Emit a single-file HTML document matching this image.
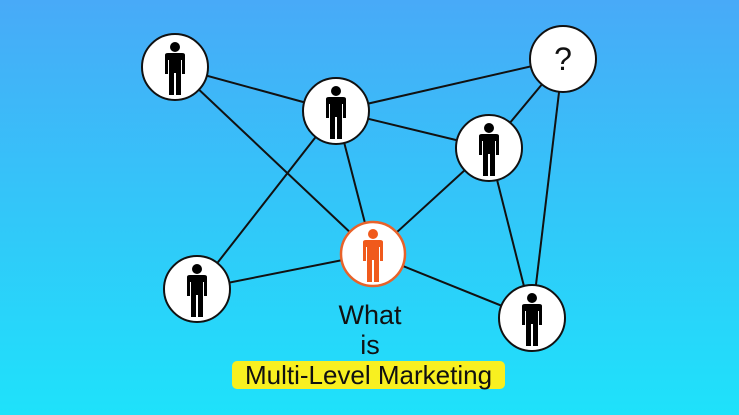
<!DOCTYPE html>
<html><head><style>
html,body{margin:0;padding:0;}
body{width:739px;height:415px;overflow:hidden;background:linear-gradient(#48aaf8,#1ee2fa);font-family:"Liberation Sans",sans-serif;position:relative;}
svg{position:absolute;left:0;top:0;}
.t{position:absolute;color:#111;font-size:27px;text-align:center;}
</style></head><body>
<svg width="739" height="415" viewBox="0 0 739 415">
<defs>
<g id="p">
<circle cx="0" cy="-23" r="5"/>
<path d="M-10,-15 Q-10,-17 -7,-17 H7 Q10,-17 10,-15 V4 H7 V-10 H6 V25 H1 V3 H-1 V25 H-6 V-10 H-7 V4 H-10 Z"/>
</g>
</defs>
<g stroke="#111" stroke-width="2">
<line x1="175" y1="67" x2="336" y2="111"/>
<line x1="175" y1="67" x2="373" y2="254"/>
<line x1="336" y1="111" x2="563" y2="59"/>
<line x1="336" y1="111" x2="489" y2="148"/>
<line x1="336" y1="111" x2="373" y2="254"/>
<line x1="336" y1="111" x2="197" y2="289"/>
<line x1="563" y1="59" x2="489" y2="148"/>
<line x1="563" y1="59" x2="532" y2="318"/>
<line x1="489" y1="148" x2="373" y2="254"/>
<line x1="489" y1="148" x2="532" y2="318"/>
<line x1="373" y1="254" x2="197" y2="289"/>
<line x1="373" y1="254" x2="532" y2="318"/>
</g>
<g fill="#fff" stroke="#111" stroke-width="2">
<circle cx="175" cy="67" r="33"/>
<circle cx="336" cy="111" r="33"/>
<circle cx="563" cy="59" r="33"/>
<circle cx="489" cy="148" r="33"/>
<circle cx="197" cy="289" r="33"/>
<circle cx="532" cy="318" r="33"/>
<circle cx="373" cy="254" r="32" stroke="#e8622a" stroke-width="2.5"/>
</g>
<g fill="#000">
<use href="#p" transform="translate(175,70)"/>
<use href="#p" transform="translate(336,114)"/>
<use href="#p" transform="translate(489,151)"/>
<use href="#p" transform="translate(197,292)"/>
<use href="#p" transform="translate(532,321)"/>
</g>
<use href="#p" transform="translate(373,257)" fill="#f05a1c"/>
<text x="563" y="70" font-family="Liberation Sans" font-size="32" text-anchor="middle" fill="#111">?</text>
</svg>
<div class="t" style="left:320px;top:300px;width:100px;">What</div>
<div class="t" style="left:320px;top:330px;width:100px;">is</div>
<div style="position:absolute;left:232px;top:361px;width:273px;height:28px;background:#f8f020;border-radius:5px;"></div>
<div class="t" style="left:232px;top:360px;width:273px;font-size:26px;">Multi-Level Marketing</div>
</body></html>
